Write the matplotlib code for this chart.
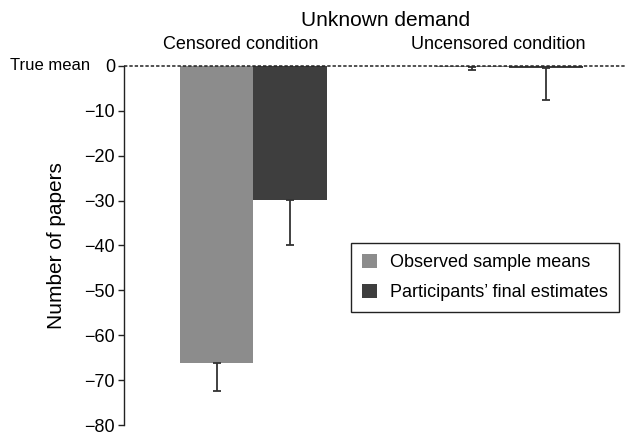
import matplotlib
matplotlib.use("Agg")
import matplotlib.pyplot as plt

plt.rcParams['font.family'] = ['Liberation Sans', 'DejaVu Sans']

conditions = ["Censored condition", "Uncensored condition"]
series = ["Observed sample means", "Participants\u2019 final estimates"]
observed = [-66.2, -0.3]
observed_err = [6.3, 0.7]
estimates = [-29.8, -0.5]
estimates_err = [10.0, 7.1]
yticks = [0, -10, -20, -30, -40, -50, -60, -70, -80]

W, H = 626, 436
fig = plt.figure(figsize=(W/100, H/100), dpi=100)
ax_left, ax_top, ax_bottom = 124, 66, 425
ax = fig.add_axes([ax_left/W, 1 - ax_bottom/H, 1 - ax_left/W, (ax_bottom - ax_top)/H])

gray = "#8c8c8c"
dark = "#3e3e3e"
centers = [1.76, 5.24]
xg = [c - 0.5 for c in centers]
xd = [c + 0.5 for c in centers]

ax.bar(xg, observed, width=1.0, color=gray, label=series[0], zorder=2)
ax.bar(xd, estimates, width=1.0, color=dark, label=series[1], zorder=2)
ax.errorbar(xg, observed, yerr=[observed_err, [0, 0]], fmt='none', ecolor="#333333",
            elinewidth=1.3, capsize=3, capthick=1.3, zorder=3)
ax.errorbar(xd, estimates, yerr=[estimates_err, [0, 0]], fmt='none', ecolor="#333333",
            elinewidth=1.3, capsize=3, capthick=1.3, zorder=3)

ax.axhline(0, color="#222222", linestyle=(0, (2.2, 1.3)), linewidth=1.1, zorder=4, clip_on=False)

ax.set_xlim(0, (W - ax_left)/73.5)
ax.set_ylim(-80, 0)
ax.set_yticks(yticks)
ax.set_yticklabels([str(t).replace('-', '\u2212') for t in yticks], fontsize=13)
ax.tick_params(axis='y', direction='out', length=4, width=1, color='#222222', pad=2.5)
ax.set_xticks([])
for s in ['top', 'right', 'bottom']:
    ax.spines[s].set_visible(False)
ax.spines['left'].set_color('#222222')
ax.spines['left'].set_linewidth(1.0)

fig.text(57/W, 1 - 246/H, "Number of papers", rotation=90, ha='center', va='center', fontsize=15)
fig.text(90/W, 1 - 66/H, "True mean", ha='right', va='center', fontsize=12)

fig.text(386/W, 1 - 20/H, "Unknown demand", ha='center', va='center', fontsize=15)
fig.text(241/W, 1 - 44/H, conditions[0], ha='center', va='center', fontsize=13)
fig.text(498/W, 1 - 44/H, conditions[1], ha='center', va='center', fontsize=13)

leg = fig.legend(loc='upper left', bbox_to_anchor=(351/W, 1 - 243/H), bbox_transform=fig.transFigure,
                 fontsize=13, frameon=True, fancybox=False, edgecolor='#222222', framealpha=1,
                 handlelength=0.83, handleheight=0.83, handletextpad=0.72, borderpad=0.6,
                 labelspacing=0.7, borderaxespad=0)
leg.get_frame().set_linewidth(1.0)

fig.savefig("out.png", dpi=100)
